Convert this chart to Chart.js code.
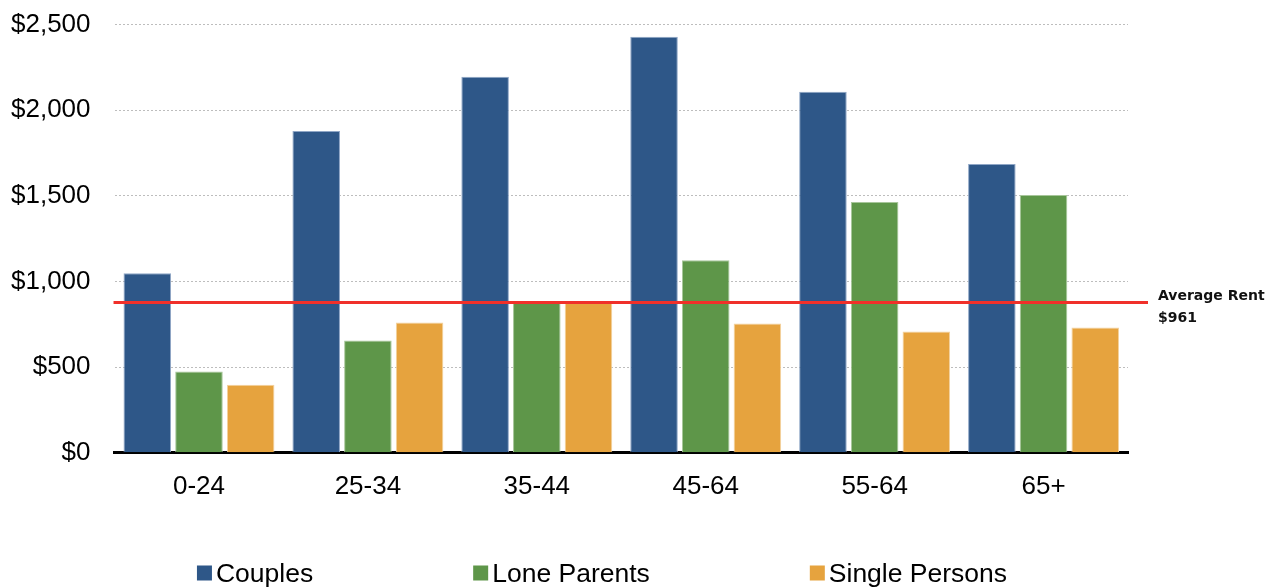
<!DOCTYPE html>
<html>
<head>
<meta charset="utf-8">
<script src="https://cdn.jsdelivr.net/npm/chart.js@4/dist/chart.umd.min.js"></script>
<style>
  html, body { margin: 0; padding: 0; background: #fff; }
  #wrap { width: 1270px; height: 588px; position: relative; }
</style>
</head>
<body>
<div id="wrap"><canvas id="c" width="1270" height="588"></canvas></div>
<script>
const categories = ['0-24', '25-34', '35-44', '45-64', '55-64', '65+'];
const couples = [1048, 1879, 2196, 2430, 2108, 1686];
const loneParents = [474, 656, 878, 1124, 1464, 1505];
const singlePersons = [398, 761, 878, 755, 708, 732];
const seriesNames = ['Couples', 'Lone Parents', 'Single Persons'];
const yTicks = [0, 500, 1000, 1500, 2000, 2500];
const averageLineValue = 878;
const averageLabel = ['Average Rent', '$961'];

const FONT = "'Liberation Sans', Arial, sans-serif";

const avgLinePlugin = {
  id: 'avgLine',
  afterDatasetsDraw(chart) {
    const { ctx, chartArea, scales } = chart;
    const y = scales.y.getPixelForValue(averageLineValue);
    ctx.save();
    ctx.strokeStyle = '#F0302A';
    ctx.lineWidth = 3;
    ctx.beginPath();
    ctx.moveTo(chartArea.left - 1, y);
    ctx.lineTo(chartArea.right + 20, y);
    ctx.stroke();
    ctx.fillStyle = '#111';
    ctx.font = "bold 14px 'DejaVu Sans', sans-serif";
    ctx.textBaseline = 'middle';
    ctx.textAlign = 'left';
    ctx.fillText(averageLabel[0], chartArea.right + 30, y - 6);
    ctx.fillText(averageLabel[1], chartArea.right + 30, y + 16);
    ctx.restore();
  }
};

const legendPlugin = {
  id: 'customLegend',
  afterDraw(chart) {
    const { ctx } = chart;
    const ds = chart.data.datasets;
    ctx.save();
    ctx.font = '26.5px ' + FONT;
    ctx.textBaseline = 'middle';
    ctx.textAlign = 'left';
    const box = 15, gapText = 4, gap = 160;
    const widths = ds.map(d => box + gapText + ctx.measureText(d.label).width);
    const total = widths.reduce((a, b) => a + b, 0) + gap * (ds.length - 1);
    let x = 602 - total / 2;
    const yc = 573;
    ds.forEach((d, i) => {
      ctx.fillStyle = d.backgroundColor;
      ctx.fillRect(x, yc - box / 2, box, box);
      ctx.fillStyle = '#000';
      ctx.fillText(d.label, x + box + gapText, yc + 2);
      x += widths[i] + gap;
    });
    ctx.restore();
  }
};

new Chart(document.getElementById('c'), {
  type: 'bar',
  data: {
    labels: categories,
    datasets: [
      { label: seriesNames[0], data: couples, backgroundColor: '#2E5788', borderColor: '#8FA6C6', borderWidth: 1 },
      { label: seriesNames[1], data: loneParents, backgroundColor: '#5E9649', borderColor: '#A7C69A', borderWidth: 1 },
      { label: seriesNames[2], data: singlePersons, backgroundColor: '#E6A33E', borderColor: '#F3D29F', borderWidth: 1 }
    ]
  },
  options: {
    responsive: false,
    animation: false,
    devicePixelRatio: 1,
    layout: { padding: { top: 0, right: 142, bottom: 68, left: -13 } },
    datasets: { bar: { categoryPercentage: 0.918, barPercentage: 0.92 } },
    plugins: {
      legend: { display: false },
      tooltip: { enabled: false }
    },
    scales: {
      x: {
        grid: { display: false, drawTicks: false },
        border: { display: true, color: '#000', width: 3 },
        ticks: { color: '#000', font: { family: FONT, size: 26 }, padding: 18 }
      },
      y: {
        min: 0, max: 2500,
        afterBuildTicks(scale) { scale.ticks = yTicks.map(v => ({ value: v })); },
        grid: { color: '#BDBDBD', lineWidth: 1, drawTicks: false },
        border: { display: false, dash: [2, 2] },
        ticks: {
          color: '#000', font: { family: FONT, size: 26, lineHeight: 0.05 }, padding: 24,
          callback: v => '$' + Number(v).toLocaleString('en-US')
        }
      }
    }
  },
  plugins: [avgLinePlugin, legendPlugin]
});
</script>
</body>
</html>
